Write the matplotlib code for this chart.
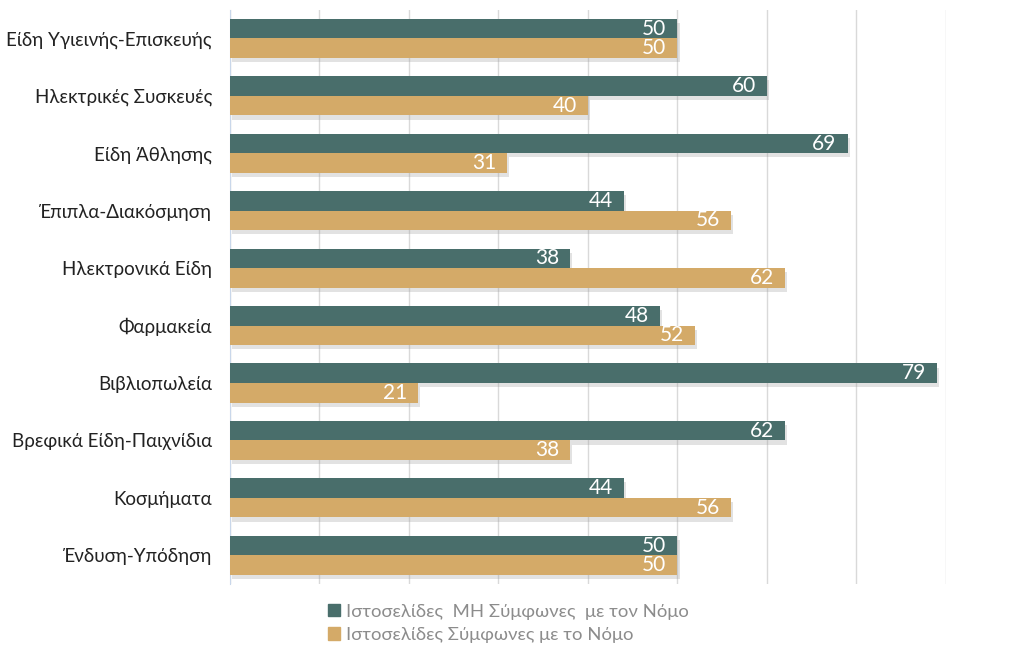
import numpy as np
import matplotlib.pyplot as plt
import matplotlib.patheffects as pe
from matplotlib.patches import Patch
from matplotlib.transforms import offset_copy

categories = ["Είδη Υγιεινής-Επισκευής", "Ηλεκτρικές Συσκευές", "Είδη Άθλησης",
              "Έπιπλα-Διακόσμηση", "Ηλεκτρονικά Είδη", "Φαρμακεία", "Βιβλιοπωλεία",
              "Βρεφικά Είδη-Παιχνίδια", "Κοσμήματα", "Ένδυση-Υπόδηση"]
non_compliant = [50, 60, 69, 44, 38, 48, 79, 62, 44, 50]
compliant = [50, 40, 31, 56, 62, 52, 21, 38, 56, 50]
series_names = ["Ιστοσελίδες  ΜΗ Σύμφωνες  με τον Νόμο", "Ιστοσελίδες Σύμφωνες με το Νόμο"]

teal = "#496E6B"
tan = "#D4AA68"

plt.rcParams['font.family'] = ['Lato', 'DejaVu Sans']

fig = plt.figure(figsize=(10.22, 6.46), dpi=100)
ax = fig.add_axes([0.225, 0.096, 0.7006, 0.889])

y = np.arange(len(categories))
h = 0.34
shadow = [pe.SimplePatchShadow(offset=(1.5, -3), shadow_rgbFace="#999999", alpha=0.28), pe.Normal()]

b1 = ax.barh(y - h / 2, non_compliant, height=h, color=teal, zorder=3)
b2 = ax.barh(y + h / 2, compliant, height=h, color=tan, zorder=3)

# value labels sit just inside the end of each bar
label_tr = offset_copy(ax.transData, fig=fig, x=-11, y=0, units="dots")
for bars, vals, offs in ((b1, non_compliant, -h / 2), (b2, compliant, h / 2)):
    for bar, v, yy in zip(bars, vals, y + offs):
        bar.set_path_effects(shadow)
        ax.text(v, yy, str(v), transform=label_tr, ha="right", va="center",
                color="white", fontsize=15, zorder=4)

ax.set_xlim(0, 80)
ax.set_ylim(len(categories) - 0.5, -0.5)
ax.set_xticks(np.arange(0, 81, 10))
ax.set_xticklabels([])
ax.set_yticks(y)
ax.set_yticklabels(categories, fontsize=13.5, color="#222222")
ax.tick_params(length=0, pad=13)
ax.grid(axis="x", color="#D9D9D9", linewidth=1, zorder=0)
for s in ("top", "right", "bottom"):
    ax.spines[s].set_visible(False)
ax.spines["left"].set_color("#C9D7EA")

handles = [Patch(color=teal), Patch(color=tan)]
fig.legend(handles, series_names, loc="lower left", bbox_to_anchor=(0.305, -0.021),
           frameon=False, fontsize=13.3, labelcolor="#8C8C8C",
           handlelength=0.65, handleheight=0.65, handletextpad=0.3, labelspacing=0.4)

fig.savefig("out.png", dpi=100)
